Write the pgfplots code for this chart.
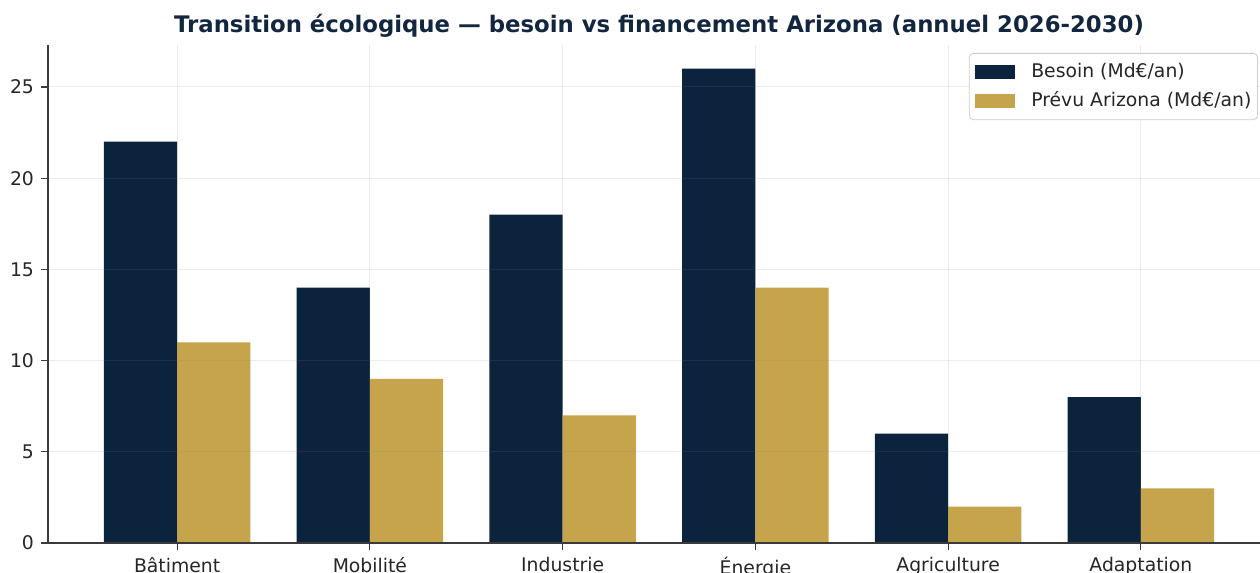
\documentclass[border=0pt]{standalone}
\usepackage{pgfplots}
\pgfplotsset{compat=1.18}
\usepackage{fontspec}
\setmainfont{DejaVu Sans}
\definecolor{navy}{HTML}{0B233D}
\definecolor{gold}{HTML}{C6A44B}
\definecolor{titlec}{HTML}{13263F}
\definecolor{axc}{HTML}{3A3A3A}
\pgfplotstableread{
x besoin prevu
0 22 11
1 14 9
2 18 7
3 26 14
4 6 2
5 8 3
}\data
\begin{document}
\begin{tikzpicture}
\useasboundingbox (-24pt,-15pt) rectangle (606pt,271.5pt);
\clip (-24pt,-15pt) rectangle (606pt,271.5pt);
\begin{axis}[
  anchor=south west, at={(0,0)},
  scale only axis, width=611pt, height=249pt,
  xmin=-0.67, xmax=5.67, ymin=0, ymax=27.3,
  ybar=0pt, bar width=0.38,
  axis on top,
  axis lines*=left,
  axis line style={axc, line width=0.7pt, -},
  xtick={0,1,2,3,4,5},
  xticklabels={Bâtiment,Mobilité,Industrie,Énergie,Agriculture,Adaptation},
  ytick={0,5,10,15,20,25},
  tick align=outside, major tick length=3.5pt,
  tick style={axc, line width=0.6pt},
  grid=major, grid style={gray, opacity=0.15, line width=0.5pt},
  /pgf/number format/assume math mode=true,
  ticklabel style={font=\fontsize{9.4}{11}\selectfont, text=black!85},
  title={Transition écologique — besoin vs financement Arizona (annuel 2026-2030)},
  title style={at={(axis description cs:0.5,1)}, anchor=base, yshift=0pt, font=\fontsize{11.4}{13}\selectfont\bfseries, text=titlec},
  legend style={at={(axis description cs:0.990,0.984)}, anchor=north east, draw=black!20, rounded corners=2pt, fill=white, font=\fontsize{9.4}{11}\selectfont, text=black!85, row sep=1.5pt, column sep=8pt, inner xsep=3pt, inner ysep=3pt,
    nodes={inner xsep=0pt}},
  legend cell align=left,
  legend image code/.code={\path[#1, draw=none, sharp corners] (0pt,-3.5pt) rectangle (20pt,3.5pt);},
]
\addplot[fill=navy, draw=none] table[x=x, y=besoin] {\data};
\addlegendentry{Besoin (Md€/an)}
\addplot[fill=gold, draw=none] table[x=x, y=prevu] {\data};
\addlegendentry{Prévu Arizona (Md€/an)}
\end{axis}
\end{tikzpicture}
\end{document}
